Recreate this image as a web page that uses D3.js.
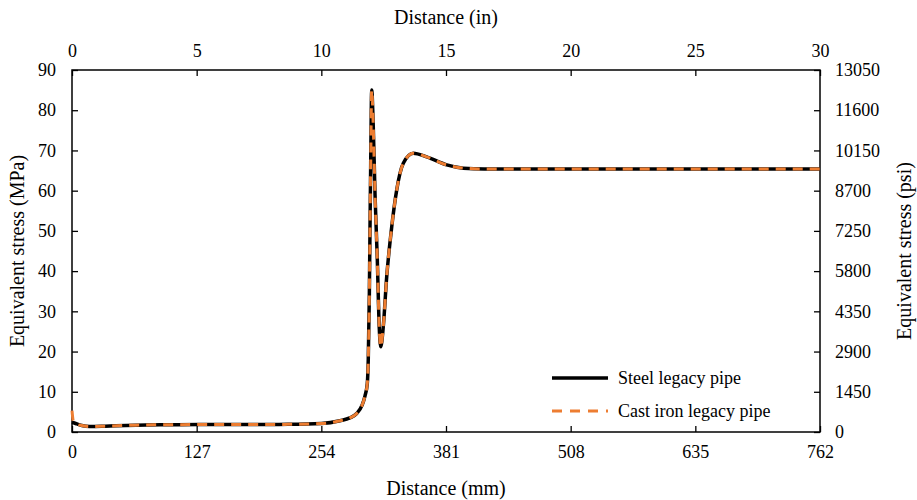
<!DOCTYPE html>
<html>
<head>
<meta charset="utf-8">
<script src="https://cdn.jsdelivr.net/npm/d3@7"></script>
<style>
  html, body { margin: 0; padding: 0; background: #fff; }
  svg { display: block; }
</style>
</head>
<body>
<svg id="chart" width="917" height="500"></svg>
<script>
// Distance along the pipe (mm) at which equivalent stress was sampled
const distanceMm = [0, 1.5, 5, 10, 18, 30, 45, 65, 95, 130, 180, 220, 254, 273, 283, 290, 295.4, 298.5,
  300.8, 301.8, 302.9, 303.6, 304.3, 305.3, 306.9, 308.7, 311.0, 313.0, 314.5, 317.1, 320.6, 325.7,
  330.8, 337.5, 347.7, 361.3, 381.7, 398.6, 420, 460, 520, 600, 680, 762];

// Equivalent stress (MPa) for each pipe material
const steelMpa = [2.4, 2.3, 2.0, 1.6, 1.35, 1.4, 1.55, 1.7, 1.8, 1.85, 1.85, 1.9, 2.1, 2.8, 3.5, 4.6, 6.6, 9,
  12, 18, 34, 51, 67, 85, 76, 59, 43, 26, 21.2, 26.2, 38.6, 51,
  60.2, 66.8, 69.3, 68.4, 66.4, 65.6, 65.4, 65.4, 65.4, 65.4, 65.4, 65.4];
const castIronMpa = [5.3, 2.5, 2.0, 1.6, 1.35, 1.4, 1.55, 1.7, 1.8, 1.85, 1.85, 1.9, 2.1, 2.8, 3.5, 4.6, 6.6, 9,
  12, 18, 34, 51, 67, 85, 76, 59, 43, 26, 21.2, 26.2, 38.6, 51,
  60.2, 66.8, 69.3, 68.4, 66.4, 65.6, 65.4, 65.4, 65.4, 65.4, 65.4, 65.4];

// Axis ticks
const mmTicks = [0, 127, 254, 381, 508, 635, 762];
const inchTicks = [0, 5, 10, 15, 20, 25, 30];
const mpaTicks = [0, 10, 20, 30, 40, 50, 60, 70, 80, 90];
const psiTicks = [0, 1450, 2900, 4350, 5800, 7250, 8700, 10150, 11600, 13050];

const seriesNames = ["Steel legacy pipe", "Cast iron legacy pipe"];

// Pick the first installed serif face (Times-like preferred)
function pickSerif() {
  const candidates = ["Liberation Serif", "Tinos", "Times New Roman", "Times", "Nimbus Roman",
    "Nimbus Roman No9 L", "FreeSerif", "DejaVu Serif", "Noto Serif", "Georgia"];
  const ctx = document.createElement("canvas").getContext("2d");
  const sample = "Distance (mm) Equivalent 0123456789 WQgy";
  const width = f => { ctx.font = "40px " + f; return ctx.measureText(sample).width; };
  const mono = width("monospace"), sans = width("sans-serif");
  for (const c of candidates) {
    const w1 = width(`"${c}", monospace`), w2 = width(`"${c}", sans-serif`);
    if (Math.abs(w1 - mono) > 0.5 || Math.abs(w2 - sans) > 0.5) {
      if (Math.abs(w1 - w2) < 0.5) return `"${c}"`;
    }
  }
  return "serif";
}
const FONT = pickSerif() + ", serif";

const svg = d3.select("#chart");
const plot = { left: 72, right: 820, top: 70, bottom: 432 };

const x = d3.scaleLinear().domain([0, 762]).range([plot.left, plot.right]);
const xIn = d3.scaleLinear().domain([0, 30]).range([plot.left, plot.right]);
const y = d3.scaleLinear().domain([0, 90]).range([plot.bottom, plot.top]);
const yPsi = d3.scaleLinear().domain([0, 13050]).range([plot.bottom, plot.top]);

const tickFont = 18;
const titleFont = 20;

function styleAxis(g) {
  g.attr("font-family", FONT).attr("font-size", tickFont);
  g.selectAll("path.domain").remove();
  g.selectAll(".tick line").attr("stroke", "#000").attr("stroke-width", 1.3);
  g.selectAll(".tick text").attr("fill", "#000");
}

// Bottom axis (mm), ticks pointing into the plot
svg.append("g")
  .attr("transform", `translate(0,${plot.bottom})`)
  .call(d3.axisBottom(x).tickValues(mmTicks).tickSizeInner(-6).tickSizeOuter(0).tickPadding(13))
  .call(styleAxis);

// Top axis (in)
svg.append("g")
  .attr("transform", `translate(0,${plot.top})`)
  .call(d3.axisTop(xIn).tickValues(inchTicks).tickSizeInner(-6).tickSizeOuter(0).tickPadding(13))
  .call(styleAxis);

// Left axis (MPa)
svg.append("g")
  .attr("transform", `translate(${plot.left},0)`)
  .call(d3.axisLeft(y).tickValues(mpaTicks).tickSizeInner(-6).tickSizeOuter(0).tickPadding(16))
  .call(styleAxis);

// Right axis (psi)
svg.append("g")
  .attr("transform", `translate(${plot.right},0)`)
  .call(d3.axisRight(yPsi).tickValues(psiTicks).tickSizeInner(-6).tickSizeOuter(0).tickPadding(15)
    .tickFormat(d3.format("d")))
  .call(styleAxis);

// Plot frame
svg.append("rect")
  .attr("x", plot.left).attr("y", plot.top)
  .attr("width", plot.right - plot.left).attr("height", plot.bottom - plot.top)
  .attr("fill", "none").attr("stroke", "#000").attr("stroke-width", 1.5);

// Axis titles
function title(sel) {
  return sel.attr("text-anchor", "middle").attr("font-family", FONT).attr("font-size", titleFont)
    .attr("fill", "#000");
}
svg.append("text")
  .attr("x", (plot.left + plot.right) / 2).attr("y", 495)
  .call(title).text("Distance (mm)");
svg.append("text")
  .attr("x", (plot.left + plot.right) / 2).attr("y", 24)
  .call(title).text("Distance (in)");
svg.append("text")
  .attr("transform", `translate(24,${(plot.top + plot.bottom) / 2}) rotate(-90)`)
  .call(title).text("Equivalent stress (MPa)");
svg.append("text")
  .attr("transform", `translate(911,${(plot.top + plot.bottom) / 2}) rotate(-90)`)
  .call(title).text("Equivalent stress (psi)");

// Stress curves
const line = d3.line()
  .x(d => x(d[0]))
  .y(d => y(d[1]))
  .curve(d3.curveMonotoneX);

const steelPts = distanceMm.map((d, i) => [d, steelMpa[i]]);
const castPts = distanceMm.map((d, i) => [d, castIronMpa[i]]);

svg.append("path")
  .datum(steelPts)
  .attr("d", line)
  .attr("fill", "none").attr("stroke", "#000").attr("stroke-width", 3.5)
  .attr("stroke-linejoin", "round");

svg.append("path")
  .datum(castPts)
  .attr("d", line)
  .attr("fill", "none").attr("stroke", "#ED7D31").attr("stroke-width", 3)
  .attr("stroke-dasharray", "10,7");

// Legend
const legend = svg.append("g");
const legendRows = [
  { name: seriesNames[0], color: "#000", dash: null, width: 3.5, y: 378 },
  { name: seriesNames[1], color: "#ED7D31", dash: "10,8", width: 3, y: 411 }
];
legendRows.forEach(r => {
  legend.append("line")
    .attr("x1", 552).attr("x2", 608).attr("y1", r.y).attr("y2", r.y)
    .attr("stroke", r.color).attr("stroke-width", r.width)
    .attr("stroke-dasharray", r.dash);
  legend.append("text")
    .attr("x", 618).attr("y", r.y + 6)
    .attr("font-family", FONT)
    .attr("font-size", 18)
    .attr("fill", "#000")
    .text(r.name);
});
</script>
</body>
</html>
